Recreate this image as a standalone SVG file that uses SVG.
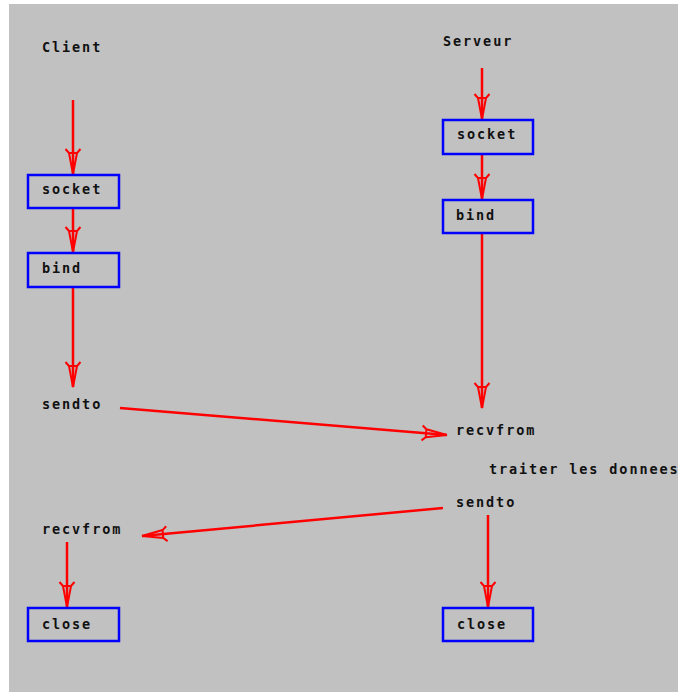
<svg xmlns="http://www.w3.org/2000/svg" width="678" height="692" viewBox="0 0 678 692">
<style>
.t{font-family:"DejaVu Sans Mono","Liberation Mono",monospace;font-size:13.5px;letter-spacing:1.9px;fill:#111;font-weight:bold}
.box{fill:none;stroke:#0000ff;stroke-width:2.5}
.c{stroke:#ff0000;stroke-width:2.5;fill:none}
</style>
<defs>
<marker id="ah" markerUnits="userSpaceOnUse" markerWidth="30" markerHeight="18" viewBox="-27 -9 29 18" refX="0" refY="0" orient="auto">
<path d="M0,0 L-21,-4 L-25,-7.5 M0,0 L-21,4 L-25,7.5 M-21,-4 L-21,4" fill="none" stroke="#ff0000" stroke-width="2"/>
</marker>
</defs>
<rect x="0" y="0" width="678" height="692" fill="#ffffff"/>
<rect x="9" y="4" width="669" height="688" fill="#c1c1c1"/>
<g id="labels">
<text class="t" x="42" y="52">Client</text>
<text class="t" x="443" y="46">Serveur</text>
</g>
<g id="connectors">
<line class="c" x1="73" y1="100" x2="73" y2="174" marker-end="url(#ah)"/>
<line class="c" x1="73" y1="208" x2="73" y2="252" marker-end="url(#ah)"/>
<line class="c" x1="73" y1="287" x2="73" y2="387" marker-end="url(#ah)"/>
<line class="c" x1="120" y1="408" x2="447" y2="435" marker-end="url(#ah)"/>
<line class="c" x1="443" y1="508" x2="142" y2="536" marker-end="url(#ah)"/>
<line class="c" x1="67" y1="542" x2="67" y2="607" marker-end="url(#ah)"/>
<line class="c" x1="482" y1="68" x2="482" y2="119" marker-end="url(#ah)"/>
<line class="c" x1="482" y1="154" x2="482" y2="199" marker-end="url(#ah)"/>
<line class="c" x1="482" y1="233" x2="482" y2="408" marker-end="url(#ah)"/>
<line class="c" x1="488" y1="515" x2="488" y2="607" marker-end="url(#ah)"/>
</g>
<g id="c_socket"><rect class="box" x="28" y="175" width="91" height="33"/><text class="t" x="42" y="194">socket</text></g>
<g id="c_bind"><rect class="box" x="28" y="253" width="91" height="34"/><text class="t" x="42" y="273">bind</text></g>
<g id="c_sendto"><text class="t" x="42" y="409">sendto</text></g>
<g id="c_recvfrom"><text class="t" x="42" y="534">recvfrom</text></g>
<g id="c_close"><rect class="box" x="28" y="608" width="91" height="33"/><text class="t" x="42" y="629">close</text></g>
<g id="s_socket"><rect class="box" x="443" y="120" width="90" height="34"/><text class="t" x="457" y="139">socket</text></g>
<g id="s_bind"><rect class="box" x="443" y="200" width="90" height="33"/><text class="t" x="456" y="220">bind</text></g>
<g id="s_recvfrom"><text class="t" x="456" y="435">recvfrom</text></g>
<g id="s_traiter"><text class="t" x="489" y="474">traiter les donnees</text></g>
<g id="s_sendto"><text class="t" x="456" y="507">sendto</text></g>
<g id="s_close"><rect class="box" x="443" y="608" width="90" height="33"/><text class="t" x="457" y="629">close</text></g>
</svg>
